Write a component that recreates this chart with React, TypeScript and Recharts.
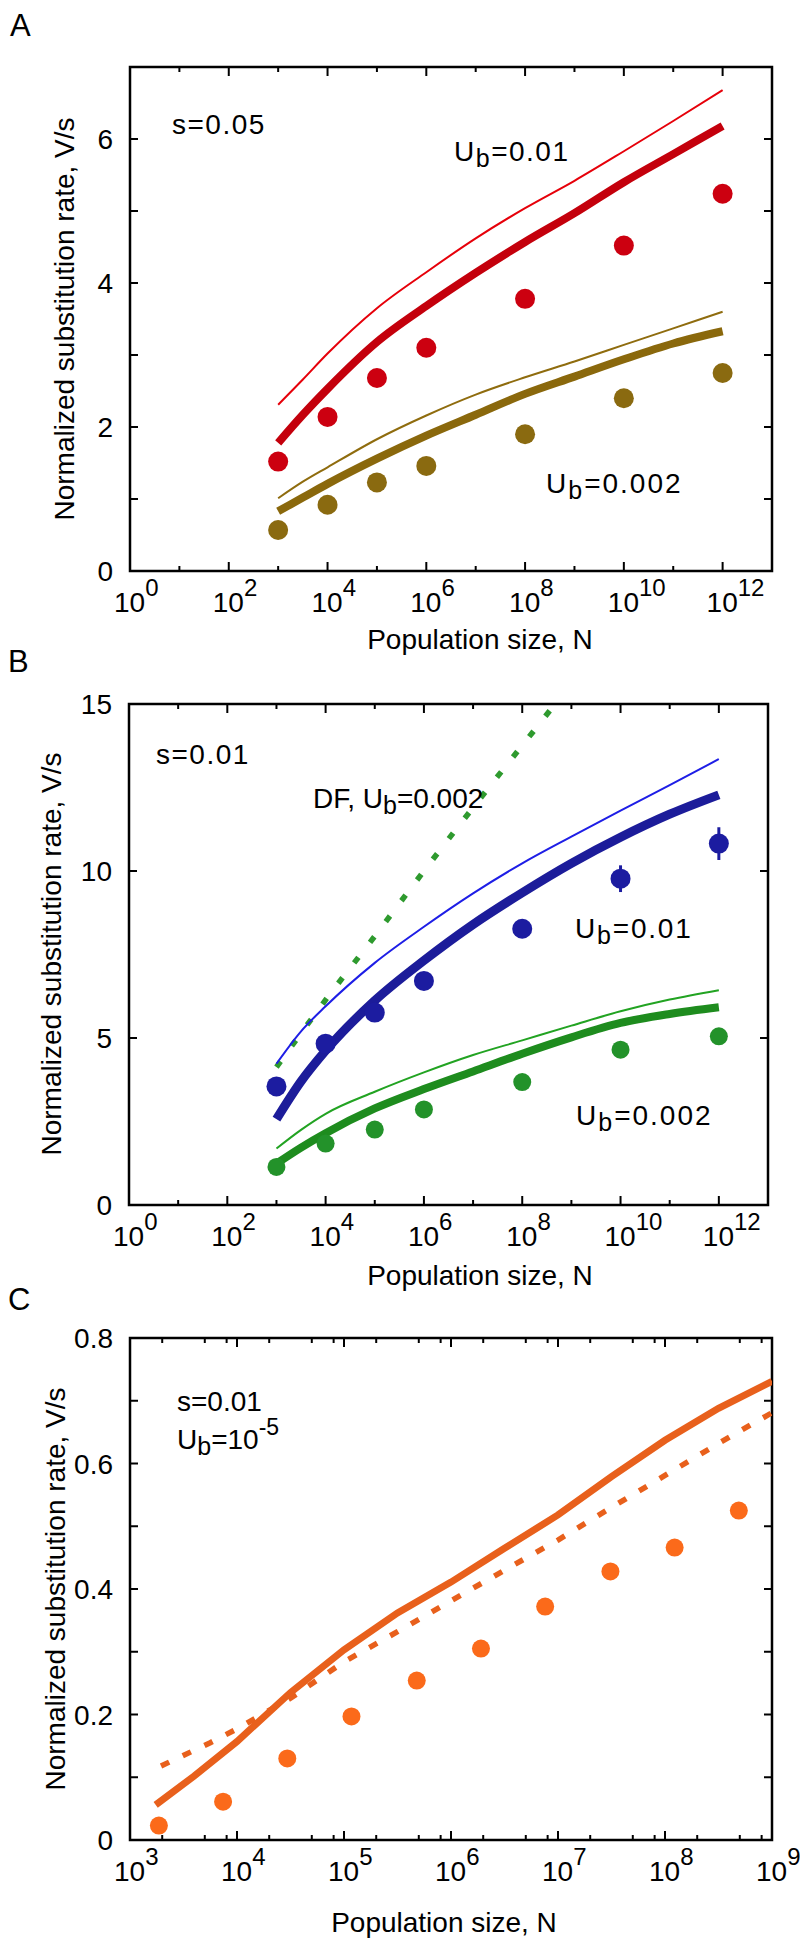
import React from 'react';
import { ComposedChart, Line, Scatter, XAxis, YAxis, ReferenceArea, ErrorBar } from 'recharts';

const FONT = '"Liberation Sans", Arial, Helvetica, sans-serif';

// ---------- panel A : s = 0.05 (x values are log10 N) ----------
const aCurveN = [3, 3.5, 4, 5, 6, 7, 8, 9, 10, 11, 12];
const aRedThin = [2.31, 2.66, 3.02, 3.65, 4.15, 4.62, 5.04, 5.42, 5.83, 6.25, 6.68];
const aRedThick = [1.78, 2.17, 2.53, 3.18, 3.68, 4.14, 4.57, 4.97, 5.4, 5.79, 6.18];
const aGoldThin = [1.01, 1.24, 1.44, 1.83, 2.16, 2.45, 2.69, 2.91, 3.14, 3.37, 3.6];
const aGoldThick = [0.83, 1.02, 1.21, 1.56, 1.88, 2.17, 2.46, 2.7, 2.94, 3.16, 3.33];
const aDotN = [3, 4, 5, 6, 8, 10, 12];
const aRedDots = [1.52, 2.14, 2.68, 3.1, 3.78, 4.52, 5.24];
const aGoldDots = [0.57, 0.92, 1.23, 1.46, 1.9, 2.4, 2.75];

// ---------- panel B : s = 0.01 ----------
const bCurveN = [3, 3.5, 4, 5, 6, 7, 8, 9, 10, 11, 12];
const bBlueThin = [4.23, 5.2, 5.95, 7.25, 8.33, 9.33, 10.23, 11.03, 11.81, 12.57, 13.35];
const bBlueThick = [2.57, 3.7, 4.62, 6.12, 7.32, 8.4, 9.35, 10.23, 11.01, 11.7, 12.28];
const bGreenThin = [1.69, 2.25, 2.73, 3.39, 3.97, 4.49, 4.93, 5.37, 5.8, 6.15, 6.43];
const bGreenThick = [1.24, 1.72, 2.15, 2.89, 3.47, 4.0, 4.53, 5.02, 5.45, 5.72, 5.92];
const bDfN = [3, 4, 5, 6, 7, 8, 8.67];
const bDf = [4.13, 6.14, 8.05, 10.0, 11.9, 13.76, 15.0];
const bDotN = [3, 4, 5, 6, 8, 10, 12];
const bBlueDots = [3.55, 4.83, 5.76, 6.71, 8.27, 9.77, 10.82];
const bBlueErr = [0, 0, 0, 0, 0, 0.4, 0.49];
const bGreenDots = [1.14, 1.84, 2.26, 2.86, 3.68, 4.65, 5.05];

// ---------- panel C : s = 0.01, Ub = 1e-5 ----------
const cSolidN = [3.24, 3.6, 4, 4.5, 5, 5.5, 6, 6.5, 7, 7.5, 8, 8.5, 9];
const cSolid = [0.056, 0.102, 0.157, 0.235, 0.303, 0.362, 0.411, 0.465, 0.518, 0.579, 0.637, 0.688, 0.731];
const cDashN = [3.29, 3.75, 4, 4.5, 5, 5.5, 6, 6.5, 7, 7.5, 8, 8.5, 9];
const cDash = [0.118, 0.155, 0.177, 0.226, 0.284, 0.332, 0.381, 0.43, 0.478, 0.53, 0.581, 0.632, 0.681];
const cDotN = [3.27, 3.87, 4.47, 5.07, 5.68, 6.28, 6.88, 7.49, 8.09, 8.69];
const cDots = [0.023, 0.061, 0.13, 0.197, 0.254, 0.305, 0.372, 0.428, 0.466, 0.525];

// tick values
const abXTicks = [0, 1, 2, 3, 4, 5, 6, 7, 8, 9, 10, 11, 12];
const aYTicks = [0, 1, 2, 3, 4, 5, 6, 7];
const bYTicks = [0, 5, 10, 15];
const cYTicks = [0, 0.1, 0.2, 0.3, 0.4, 0.5, 0.6, 0.7, 0.8];
const cDecades = [3, 4, 5, 6, 7, 8, 9];
const cXTicks = cDecades.flatMap((d) => (d < 9 ? [d, d + Math.log10(2), d + Math.log10(5), d + Math.log10(8)] : [d]));

const toPts = (xs: number[], ys: number[], err?: number[]) =>
  xs.map((x, i) => ({ logN: x, v: ys[i], err: err ? err[i] : 0 }));

const XTick = (props: any) => {
  const { x, y, payload, plotH, labelled } = props;
  const v = payload.value;
  const isInt = Math.abs(v - Math.round(v)) < 1e-6;
  const major = isInt && labelled(Math.round(v));
  const len = major ? 9 : 5;
  return (
    <g>
      <line x1={x} x2={x} y1={y} y2={y - len} stroke="#000" strokeWidth={2} />
      <line x1={x} x2={x} y1={y - plotH} y2={y - plotH + len} stroke="#000" strokeWidth={2} />
      {major && (
        <text x={x - 16} y={y + 41} fontSize={28} fontFamily={FONT} fill="#000">
          10
          <tspan dy={-16} fontSize={24}>{Math.round(v)}</tspan>
        </text>
      )}
    </g>
  );
};

const YTick = (props: any) => {
  const { x, y, payload, plotW, fmt } = props;
  const label = fmt(payload.value);
  return (
    <g>
      <line x1={x} x2={x + 8} y1={y} y2={y} stroke="#000" strokeWidth={2} />
      <line x1={x + plotW} x2={x + plotW - 8} y1={y} y2={y} stroke="#000" strokeWidth={2} />
      {label !== '' && (
        <text x={x - 17} y={y} dy="0.36em" textAnchor="end" fontSize={28} fontFamily={FONT} fill="#000">
          {label}
        </text>
      )}
    </g>
  );
};

const dot = (r: number, color: string) => (p: any) => <circle cx={p.cx} cy={p.cy} r={r} fill={color} />;

// axis boxes keep their default size (60 wide / 30 high); margins are reduced to match
const PanelA = () => (
  <ComposedChart width={800} height={640} margin={{ top: 67, right: 28, bottom: 39, left: 70 }}>
    <XAxis
      type="number" dataKey="logN" domain={[0, 13]} ticks={abXTicks} interval={0} height={30}
      tickSize={0} tickMargin={0} axisLine={false} tickLine={false} allowDataOverflow
      tick={(p: any) => <XTick {...p} plotH={504} labelled={(v: number) => v % 2 === 0} />}
    />
    <YAxis
      type="number" domain={[0, 7]} ticks={aYTicks} interval={0} width={60}
      tickSize={0} tickMargin={0} axisLine={false} tickLine={false} allowDataOverflow
      tick={(p: any) => <YTick {...p} plotW={642} fmt={(v: number) => (v % 2 === 0 ? String(v) : '')} />}
    />
    <ReferenceArea x1={0} x2={13} y1={0} y2={7} fill="none" stroke="#000" strokeWidth={2.5} />
    <Line data={toPts(aCurveN, aRedThin)} dataKey="v" type="monotone" stroke="#e6000a" strokeWidth={2} dot={false} isAnimationActive={false} />
    <Line data={toPts(aCurveN, aRedThick)} dataKey="v" type="monotone" stroke="#c4000c" strokeWidth={8} dot={false} isAnimationActive={false} />
    <Line data={toPts(aCurveN, aGoldThin)} dataKey="v" type="monotone" stroke="#8f6c0e" strokeWidth={2} dot={false} isAnimationActive={false} />
    <Line data={toPts(aCurveN, aGoldThick)} dataKey="v" type="monotone" stroke="#8a680c" strokeWidth={8} dot={false} isAnimationActive={false} />
    <Scatter data={toPts(aDotN, aRedDots)} dataKey="v" shape={dot(10, '#cc0010')} isAnimationActive={false} />
    <Scatter data={toPts(aDotN, aGoldDots)} dataKey="v" shape={dot(10, '#8a6a10')} isAnimationActive={false} />
  </ComposedChart>
);

const PanelB = () => (
  <ComposedChart width={800} height={630} margin={{ top: 64, right: 32, bottom: 35, left: 69 }}>
    <XAxis
      type="number" dataKey="logN" domain={[0, 13]} ticks={abXTicks} interval={0} height={30}
      tickSize={0} tickMargin={0} axisLine={false} tickLine={false} allowDataOverflow
      tick={(p: any) => <XTick {...p} plotH={501} labelled={(v: number) => v % 2 === 0} />}
    />
    <YAxis
      type="number" domain={[0, 15]} ticks={bYTicks} interval={0} width={60}
      tickSize={0} tickMargin={0} axisLine={false} tickLine={false} allowDataOverflow
      tick={(p: any) => <YTick {...p} plotW={639} fmt={(v: number) => String(v)} />}
    />
    <ReferenceArea x1={0} x2={13} y1={0} y2={15} fill="none" stroke="#000" strokeWidth={2.5} />
    <Line data={toPts(bDfN, bDf)} dataKey="v" type="monotone" stroke="#2e9a2e" strokeWidth={5.5} strokeDasharray="7 19" dot={false} isAnimationActive={false} />
    <Line data={toPts(bCurveN, bBlueThin)} dataKey="v" type="monotone" stroke="#1e1ee6" strokeWidth={2} dot={false} isAnimationActive={false} />
    <Line data={toPts(bCurveN, bBlueThick)} dataKey="v" type="monotone" stroke="#1c1c9a" strokeWidth={9} dot={false} isAnimationActive={false} />
    <Line data={toPts(bCurveN, bGreenThin)} dataKey="v" type="monotone" stroke="#22a322" strokeWidth={2} dot={false} isAnimationActive={false} />
    <Line data={toPts(bCurveN, bGreenThick)} dataKey="v" type="monotone" stroke="#1e8c1e" strokeWidth={8} dot={false} isAnimationActive={false} />
    <Scatter data={toPts(bDotN, bBlueDots, bBlueErr)} dataKey="v" shape={dot(10, '#1c1ca0')} isAnimationActive={false}>
      <ErrorBar dataKey="err" direction="y" width={0} stroke="#1c1ca0" strokeWidth={3} />
    </Scatter>
    <Scatter data={toPts(bDotN, bGreenDots)} dataKey="v" shape={dot(9, '#23922a')} isAnimationActive={false} />
  </ComposedChart>
);

const PanelC = () => (
  <ComposedChart width={800} height={674} margin={{ top: 68, right: 28, bottom: 74, left: 70 }}>
    <XAxis
      type="number" dataKey="logN" domain={[3, 9]} ticks={cXTicks} interval={0} height={30}
      tickSize={0} tickMargin={0} axisLine={false} tickLine={false} allowDataOverflow
      tick={(p: any) => <XTick {...p} plotH={502} labelled={() => true} />}
    />
    <YAxis
      type="number" domain={[0, 0.8]} ticks={cYTicks} interval={0} width={60}
      tickSize={0} tickMargin={0} axisLine={false} tickLine={false} allowDataOverflow
      tick={(p: any) => (
        <YTick {...p} plotW={642} fmt={(v: number) => (Math.round(v * 10) % 2 === 0 ? (v === 0 ? '0' : v.toFixed(1)) : '')} />
      )}
    />
    <ReferenceArea x1={3} x2={9} y1={0} y2={0.8} fill="none" stroke="#000" strokeWidth={2.5} />
    <Line data={toPts(cDashN, cDash)} dataKey="v" type="linear" stroke="#e8601c" strokeWidth={5.5} strokeDasharray="9 15" dot={false} isAnimationActive={false} />
    <Line data={toPts(cSolidN, cSolid)} dataKey="v" type="linear" stroke="#e8601c" strokeWidth={7} dot={false} isAnimationActive={false} />
    <Scatter data={toPts(cDotN, cDots)} dataKey="v" shape={dot(9, '#fb6a1a')} isAnimationActive={false} />
  </ComposedChart>
);

const Ub = ({ x, y, rest, spacing }: { x: number; y: number; rest: string; spacing: number }) => (
  <text x={x} y={y} fontSize={28} fontFamily={FONT} letterSpacing={spacing}>
    U<tspan dy={6} fontSize={25}>b</tspan>
    <tspan dy={-6}>{rest}</tspan>
  </text>
);

export default function App() {
  return (
    <div style={{ position: 'absolute', left: 0, top: 0, width: 800, height: 1944, background: '#fff' }}>
      <div style={{ position: 'absolute', left: 0, top: 0 }}><PanelA /></div>
      <div style={{ position: 'absolute', left: 0, top: 640 }}><PanelB /></div>
      <div style={{ position: 'absolute', left: 0, top: 1270 }}><PanelC /></div>
      <svg width={800} height={1944} style={{ position: 'absolute', left: 0, top: 0, pointerEvents: 'none' }}>
        <g fontFamily={FONT} fill="#000">
          <text x={10} y={36} fontSize={31}>A</text>
          <text x={8} y={672} fontSize={31}>B</text>
          <text x={8} y={1310} fontSize={31}>C</text>

          <text x={64} y={319} fontSize={28} textAnchor="middle" dominantBaseline="central" transform="rotate(-90 64 319)">
            Normalized substitution rate, V/s
          </text>
          <text x={51} y={954} fontSize={28} textAnchor="middle" dominantBaseline="central" transform="rotate(-90 51 954)">
            Normalized substitution rate, V/s
          </text>
          <text x={55} y={1589} fontSize={28} textAnchor="middle" dominantBaseline="central" transform="rotate(-90 55 1589)">
            Normalized substitution rate, V/s
          </text>

          <text x={480} y={649} fontSize={28} textAnchor="middle">Population size, N</text>
          <text x={480} y={1285} fontSize={28} textAnchor="middle">Population size, N</text>
          <text x={444} y={1932} fontSize={28} textAnchor="middle">Population size, N</text>

          <text x={172} y={134} fontSize={28} letterSpacing={1.5}>s=0.05</text>
          <Ub x={454} y={161} rest="=0.01" spacing={1.5} />
          <Ub x={546} y={493} rest="=0.002" spacing={2} />

          <text x={156} y={764} fontSize={28} letterSpacing={1.5}>s=0.01</text>
          <text x={313} y={808} fontSize={28}>
            DF, U<tspan dy={6} fontSize={25}>b</tspan>
            <tspan dy={-6}>=0.002</tspan>
          </text>
          <Ub x={575} y={938} rest="=0.01" spacing={1.8} />
          <Ub x={576} y={1125} rest="=0.002" spacing={2} />

          <text x={177} y={1411} fontSize={28}>s=0.01</text>
          <text x={177} y={1449} fontSize={28}>
            U<tspan dy={6} fontSize={25}>b</tspan>
            <tspan dy={-6}>=10</tspan>
            <tspan dy={-14} fontSize={23}>-5</tspan>
          </text>
        </g>
      </svg>
    </div>
  );
}
